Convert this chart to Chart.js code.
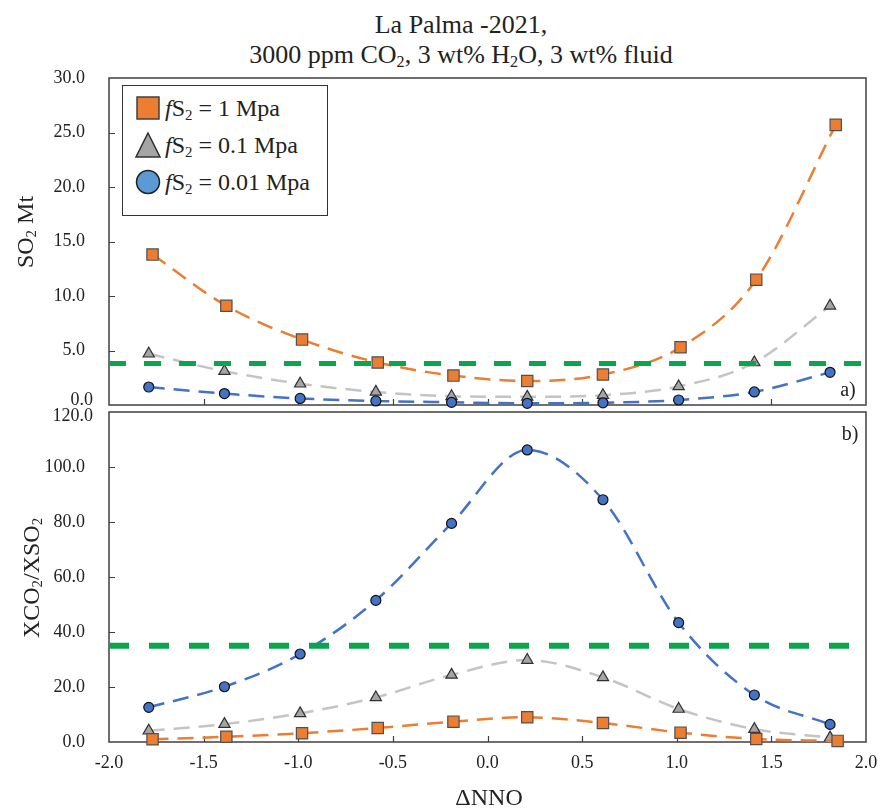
<!DOCTYPE html>
<html>
<head>
<meta charset="utf-8">
<script src="https://cdn.jsdelivr.net/npm/chart.js@4.4.1/dist/chart.umd.min.js"></script>
<style>
    body { margin: 0; background: #fff; }
    #wrap {
        position: relative; width: 878px; height: 808px; overflow: hidden;
        font-family: "Liberation Serif", "Times New Roman", serif; color: #222;
    }
    .abs { position: absolute; white-space: nowrap; }
    .title { left: 61px; width: 800px; text-align: center; font-size: 26px; line-height: 30px; }
    .ytitle { font-size: 24px; transform: translate(-50%, -50%) rotate(-90deg); }
    sub { font-size: 0.62em; vertical-align: -0.25em; line-height: 0; }
    #legend {
        left: 122px; top: 85px; width: 204px; height: 129px;
        border: 1.5px solid #333; background: #fff; font-size: 24px;
    }
    .row { position: absolute; left: 0; height: 30px; display: flex; align-items: center; }
    .row svg { margin-left: 12px; margin-right: 4px; }
    .panel { position: absolute; left: 0; width: 878px; }
    canvas { display: block; }
</style>
</head>
<body>
<div id="wrap">
    <div class="abs title" style="top: 10px;">La Palma -2021,<br>3000 ppm CO<sub>2</sub>, 3 wt% H<sub>2</sub>O, 3 wt% fluid</div>

    <div class="panel" style="top: 0; height: 420px;"><canvas id="top" width="878" height="420"></canvas></div>
    <div class="panel" style="top: 400px; height: 408px;"><canvas id="bottom" width="878" height="408"></canvas></div>

    <div class="abs ytitle" style="left: 25px; top: 232px;">SO<sub>2</sub> Mt</div>
    <div class="abs ytitle" style="left: 31px; top: 578px;">XCO<sub>2</sub>/XSO<sub>2</sub></div>
    <div class="abs" style="left: 489px; top: 797px; transform: translate(-50%, -50%); font-size: 24px;">ΔNNO</div>

    <div class="abs" style="left: 848px; top: 389px; transform: translate(-50%, -50%); font-size: 20px;">a)</div>
    <div class="abs" style="left: 850px; top: 433px; transform: translate(-50%, -50%); font-size: 20px;">b)</div>

    <div id="legend" class="abs">
        <div class="row" style="top: 7px;">
            <svg width="26" height="26"><rect x="2" y="2" width="22" height="22" fill="#ED7D31" stroke="#404040" stroke-width="1.5"/></svg>
            <span><i>f</i>S<sub>2</sub> = 1 Mpa</span>
        </div>
        <div class="row" style="top: 44px;">
            <svg width="26" height="26"><polygon points="13,1 25,25 1,25" fill="#A5A5A5" stroke="#303030" stroke-width="1.5"/></svg>
            <span><i>f</i>S<sub>2</sub> = 0.1 Mpa</span>
        </div>
        <div class="row" style="top: 81px;">
            <svg width="26" height="26"><circle cx="13" cy="13" r="11.5" fill="#5B9BD5" stroke="#202020" stroke-width="1.5"/></svg>
            <span><i>f</i>S<sub>2</sub> = 0.01 Mpa</span>
        </div>
    </div>
</div>

<script>
// dNNO positions (orange sits a touch to the right of the other two)
const xOrange = [-1.77, -1.38, -0.98, -0.58, -0.18, 0.21, 0.61, 1.02, 1.42, 1.84];
const xOthers = [-1.79, -1.39, -0.99, -0.59, -0.19, 0.21, 0.61, 1.01, 1.41, 1.81];
const xBottomOrange = [-1.77, -1.38, -0.98, -0.58, -0.18, 0.21, 0.61, 1.02, 1.42, 1.85];

// a) SO2 Mt
const so2Orange = [13.8, 9.1, 6.0, 3.9, 2.7, 2.2, 2.8, 5.3, 11.5, 25.7];
const so2Gray = [4.7, 3.1, 1.95, 1.2, 0.8, 0.75, 0.9, 1.7, 3.9, 9.1];
const so2Blue = [1.65, 1.05, 0.6, 0.37, 0.25, 0.15, 0.2, 0.46, 1.2, 3.0];
const so2Observed = 3.8;

// b) XCO2/XSO2
const ratioOrange = [1.0, 1.9, 3.2, 5.1, 7.4, 9.0, 6.9, 3.4, 1.1, 0.4];
const ratioGray = [4.1, 6.5, 10.4, 16.2, 24.4, 29.8, 23.5, 12.0, 4.7, 1.6];
const ratioBlue = [12.6, 20.1, 32.0, 51.5, 79.5, 106.2, 88.1, 43.4, 17.1, 6.4];
const ratioObserved = 35;

const xRange = [-2, 2];
const FONT = '"Liberation Serif", "Times New Roman", serif';
const TICK_FONT = '18px ' + FONT;

function pts(xs, ys) {
    return xs.map((x, i) => ({ x, y: ys[i] }));
}

function series(xs, ys, line, fill, stroke, style, radius, order) {
    return {
        data: pts(xs, ys),
        showLine: true,
        borderColor: line,
        borderWidth: 2.5,
        borderDash: [16, 9],
        cubicInterpolationMode: 'monotone',
        pointStyle: style,
        pointRadius: radius,
        pointBackgroundColor: fill,
        pointBorderColor: stroke,
        pointBorderWidth: 1.2,
        clip: false,
        order
    };
}

function observed(y, width, dash) {
    return {
        data: xRange.map(x => ({ x, y })),
        showLine: true,
        borderColor: '#0AA54C',
        borderWidth: width,
        borderDash: dash,
        pointRadius: 0,
        order: 0
    };
}

// box around the plot area, inward tick marks, and the one y label
// where the two panels meet (nudged so they don't overlap)
const framePlugin = {
    id: 'frame',
    beforeDatasetsDraw(chart, args, opts) {
        const { ctx, chartArea: a, scales } = chart;
        ctx.save();
        ctx.strokeStyle = '#404040';
        ctx.lineWidth = 1.5;
        ctx.strokeRect(a.left, a.top, a.right - a.left, a.bottom - a.top);
        ctx.lineWidth = 1.2;
        ctx.beginPath();
        scales.x.ticks.forEach(t => {
            const px = Math.round(scales.x.getPixelForValue(t.value)) + 0.5;
            if (px <= a.left + 2 || px >= a.right - 2) return;
            ctx.moveTo(px, a.bottom);
            ctx.lineTo(px, a.bottom - 6);
        });
        scales.y.ticks.forEach(t => {
            const py = Math.round(scales.y.getPixelForValue(t.value)) + 0.5;
            if (py <= a.top + 2 || py >= a.bottom - 2) return;
            ctx.moveTo(a.left, py);
            ctx.lineTo(a.left + 6, py);
        });
        ctx.stroke();

        if (opts.edge) {
            const py = scales.y.getPixelForValue(opts.edge.value) + opts.edge.dy;
            ctx.fillStyle = '#222';
            ctx.font = TICK_FONT;
            ctx.textAlign = 'right';
            ctx.textBaseline = 'middle';
            ctx.fillText(opts.edge.value.toFixed(1), a.left - 16, py);
        }
        ctx.restore();
    }
};

// fixed axis sizes, no label overflow padding, so both plot boxes line up
function fixX(showX) {
    return s => {
        s.height = showX ? 66 : 0;
        s.paddingLeft = 0;
        s.paddingRight = 0;
    };
}

function fixY(s) {
    s.width = 109;
    s.paddingTop = 0;
    s.paddingBottom = 0;
}

function makeChart(id, datasets, yMax, yStep, padding, showX, edge) {
    return new Chart(document.getElementById(id), {
        type: 'scatter',
        data: { datasets },
        options: {
            responsive: false,
            animation: false,
            layout: { padding, autoPadding: false },
            plugins: {
                legend: { display: false },
                tooltip: { enabled: false },
                frame: { edge }
            },
            scales: {
                x: {
                    type: 'linear', min: xRange[0], max: xRange[1],
                    grid: { display: false }, border: { display: false },
                    ticks: {
                        display: showX, stepSize: 0.5, padding: 2,
                        color: '#222', font: { family: FONT, size: 18 },
                        callback: v => v.toFixed(1)
                    },
                    afterFit: fixX(showX)
                },
                y: {
                    min: 0, max: yMax,
                    grid: { display: false }, border: { display: false },
                    ticks: {
                        stepSize: yStep, padding: 16,
                        color: '#222', font: { family: FONT, size: 18 },
                        // the edge label is drawn by the frame plugin instead
                        callback: v => (v === edge.value ? '' : v.toFixed(1))
                    },
                    afterFit: fixY
                }
            }
        },
        plugins: [framePlugin]
    });
}

makeChart('top', [
    observed(so2Observed, 5, [17, 18]),
    series(xOrange, so2Orange, '#ED7D31', '#ED7D31', '#505050', 'rect', 8, 1),
    series(xOthers, so2Blue, '#4472C4', '#4472C4', '#111', 'circle', 5, 2),
    series(xOthers, so2Gray, '#C4C4C4', '#A5A5A5', '#303030', 'triangle', 6.5, 3)
], 30, 5, { top: 78, right: 12, bottom: 15, left: 0 }, false, { value: 0, dy: -5 });

makeChart('bottom', [
    observed(ratioObserved, 6, [20, 20]),
    series(xBottomOrange, ratioOrange, '#ED7D31', '#ED7D31', '#505050', 'rect', 8, 1),
    series(xOthers, ratioBlue, '#4472C4', '#4472C4', '#111', 'circle', 5, 2),
    series(xOthers, ratioGray, '#C4C4C4', '#A5A5A5', '#303030', 'triangle', 6.5, 3)
], 120, 20, { top: 12, right: 12, bottom: 0, left: 0 }, true, { value: 120, dy: 4 });
</script>
</body>
</html>
